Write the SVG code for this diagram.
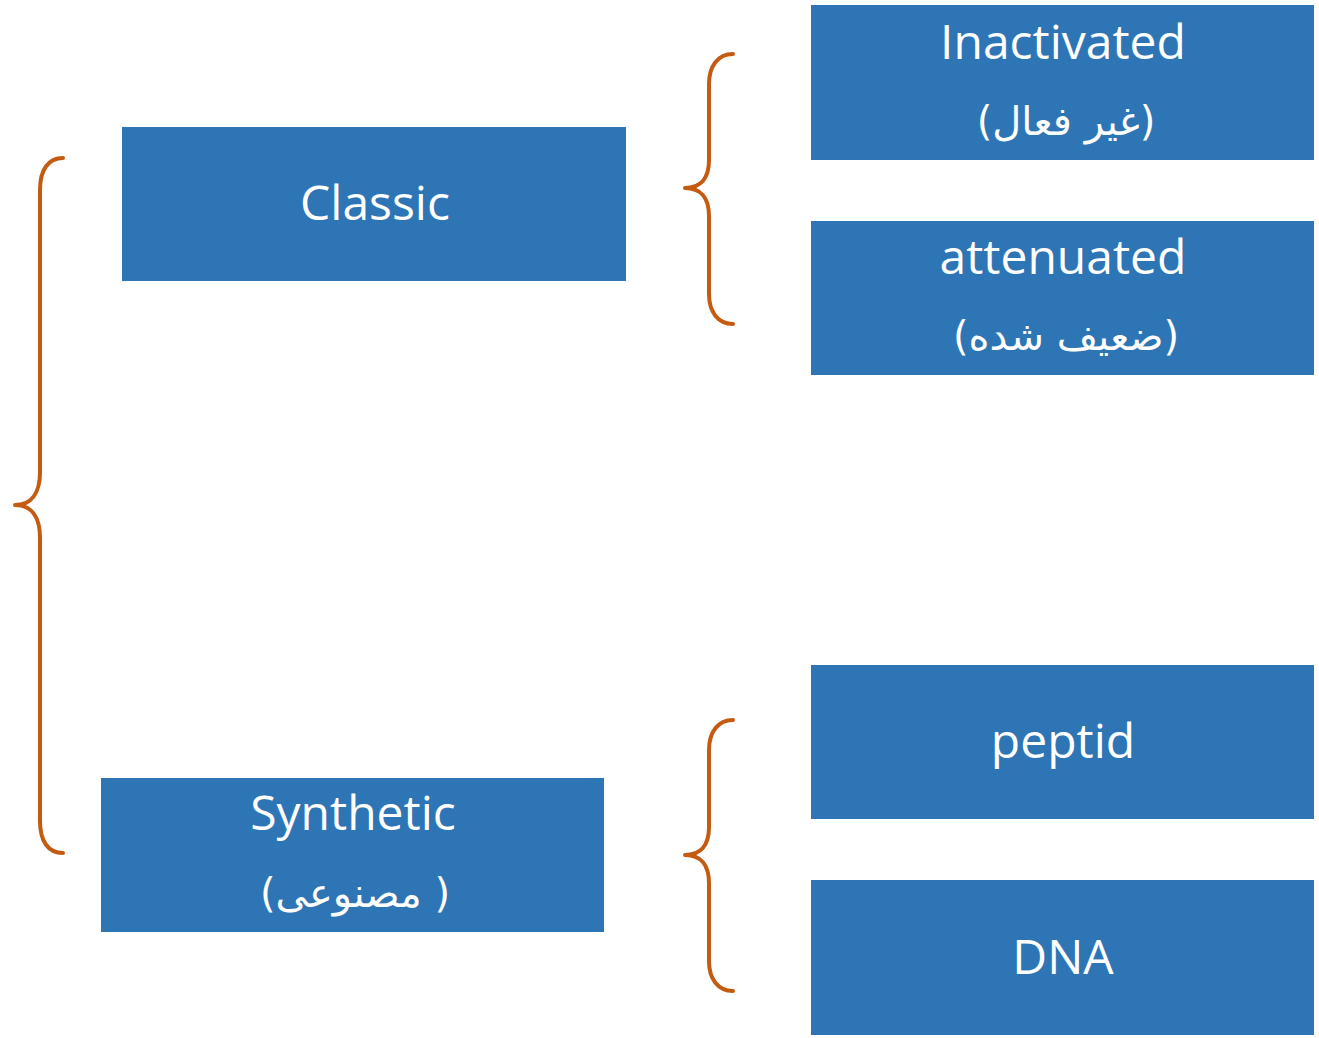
<svg xmlns="http://www.w3.org/2000/svg" width="1319" height="1038" viewBox="0 0 1319 1038">
<style>
.box{fill:#2E75B6;stroke:#2E75B6;stroke-width:1}
.en{font-family:"Open Sans","Noto Sans",sans-serif;font-size:48px;fill:#FFFFFF;text-anchor:middle}
.fa{font-family:"DejaVu Sans","Noto Sans",sans-serif;font-size:40px;fill:#FFFFFF;text-anchor:middle}
.brace{fill:none;stroke:#C55A11;stroke-width:4;stroke-linecap:round;stroke-linejoin:round}
</style>
<rect width="1319" height="1038" fill="#FFFFFF"/>
<g id="connectors">
<path class="brace" d="M63,158 C48,158 40,170 40,190 L40,472 C40,492 32,505 15,505 C32,505 40,518 40,538 L40,821 C40,841 48,853 63,853"/>
<path class="brace" d="M733,54 C718,54 709,66 709,84 L709,160 C709,178 701,188 685,188 C701,188 709,198 709,216 L709,294 C709,312 718,324 733,324"/>
<path class="brace" d="M733,720 C718,720 709,732 709,750 L709,827 C709,845 701,855 685,855 C701,855 709,865 709,883 L709,961 C709,979 718,991 733,991"/>
</g>
<g id="classic">
<rect class="box" x="122.5" y="127.5" width="503" height="153"/>
<text class="en" x="375" y="220">Classic</text>
</g>
<g id="synthetic">
<rect class="box" x="101.5" y="778.5" width="502" height="153"/>
<text class="en" x="353" y="830">Synthetic</text>
<text class="fa" x="355" y="907" direction="rtl" unicode-bidi="embed">( مصنوعی)</text>
</g>
<g id="inactivated">
<rect class="box" x="811.5" y="5.5" width="502" height="154"/>
<text class="en" x="1063" y="59">Inactivated</text>
<text class="fa" x="1066" y="135" direction="rtl" unicode-bidi="embed">(غیر فعال)</text>
</g>
<g id="attenuated">
<rect class="box" x="811.5" y="221.5" width="502" height="153"/>
<text class="en" x="1063" y="274">attenuated</text>
<text class="fa" x="1066" y="350" direction="rtl" unicode-bidi="embed">(ضعیف شده)</text>
</g>
<g id="peptid">
<rect class="box" x="811.5" y="665.5" width="502" height="153"/>
<text class="en" x="1063" y="758">peptid</text>
</g>
<g id="dna">
<rect class="box" x="811.5" y="880.5" width="502" height="154"/>
<text class="en" x="1063" y="974">DNA</text>
</g>
</svg>
